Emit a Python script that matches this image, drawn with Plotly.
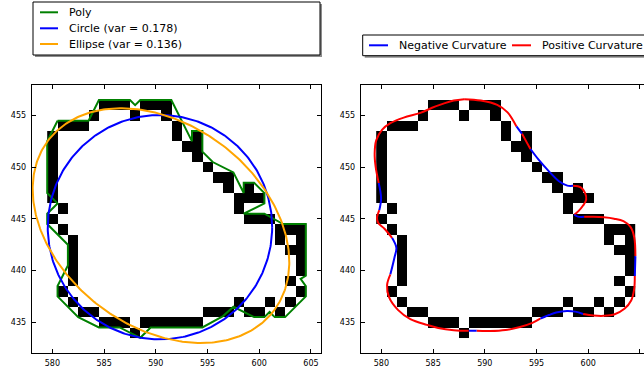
import numpy as np
import plotly.graph_objects as go

# ---------------- data ----------------
# black pixels of the binary image: row y -> list of x
pixel_rows_y = [456, 455, 454, 453, 452, 451, 450, 449, 448, 447, 446, 445,
                444, 443, 442, 441, 440, 439, 438, 437, 436, 435, 434]
pixel_rows_x = [
    [585, 586, 587, 589, 590, 591],
    [584, 588, 591],
    [581, 582, 583, 592],
    [580, 592, 594],
    [580, 593, 594],
    [580, 594],
    [580, 595],
    [580, 596, 597],
    [580, 597, 599],
    [580, 598, 599, 600],
    [581, 598],
    [580, 599, 600, 601],
    [581, 602, 603, 604],
    [582, 602, 604],
    [582, 603, 604],
    [582, 604],
    [582, 604],
    [582, 603],
    [581, 604],
    [582, 598, 601, 603],
    [583, 584, 595, 596, 597, 599, 600, 602],
    [585, 586, 587, 589, 590, 591, 592, 593, 594],
    [588],
]

# approximating polygon (closed)
poly_x = [580.5, 583.5, 584.5, 587.5, 588.0, 588.5, 591.5, 593.5, 593.5, 594.5,
          594.5, 595.5, 597.5, 598.5, 598.5, 599.5, 600.5, 600.5, 598.5, 600.5,
          602.3, 604.5, 604.5, 604.0, 604.5, 604.5, 602.5, 601.5, 601.0, 600.5,
          599.5, 597.5, 596.5, 594.5, 589.5, 588.5, 586.5, 584.5, 582.5, 580.5,
          580.5, 581.5, 581.5, 579.5, 579.5, 580.5, 579.5, 579.5, 580.5]
poly_y = [454.5, 454.5, 456.5, 456.5, 456.0, 456.5, 456.5, 452.5, 453.5, 453.5,
          451.5, 450.5, 449.5, 447.5, 448.5, 448.5, 447.5, 446.5, 445.5, 445.5,
          444.5, 444.5, 439.5, 439.2, 438.5, 437.5, 435.5, 435.5, 436.0, 435.5,
          435.5, 436.5, 435.6, 434.5, 434.5, 433.5, 434.5, 434.5, 435.5, 437.5,
          438.5, 440.5, 442.5, 444.5, 445.5, 446.5, 447.5, 452.5, 454.5]

# fitted circle and ellipse parameters
circle_center = (590.4, 444.2)
circle_radius = 10.85
circle_var = 0.178
ellipse_center = (590.5, 444.35)
ellipse_axes = (13.67, 9.79)      # semi-major, semi-minor
ellipse_angle_deg = -37.0
ellipse_var = 0.136

# smooth contour with curvature sign of the segment starting at each point
curve_x = [588.0, 589.6, 591.2, 592.2, 593.06, 593.6, 594.0, 594.41, 595.2, 596.2,
           597.17, 597.98, 598.53, 599.27, 599.7, 599.8, 599.5, 599.05, 598.65, 599.0,
           599.6, 600.5, 601.5, 602.5, 603.4, 604.1, 604.45, 604.56, 604.5, 604.44,
           604.15, 603.5, 602.5, 601.5, 600.5, 599.5, 598.74, 597.94, 596.9, 596.2,
           595.36, 594.6, 593.4, 592.0, 590.5, 589.2, 588.44, 587.0, 585.5, 584.4,
           582.8, 581.6, 580.75, 580.55, 580.87, 581.26, 581.45, 581.03, 580.3, 579.7,
           579.58, 579.8, 579.97, 579.74, 579.45, 579.35, 579.5, 580.06, 580.87, 582.16,
           583.77, 584.9, 586.0, 587.0]
curve_y = [456.58, 456.45, 456.03, 455.3, 453.94, 453.23, 452.5, 451.76, 450.73, 449.6,
           448.64, 448.22, 448.2, 448.05, 447.5, 446.87, 446.29, 445.75, 445.4, 445.22,
           445.2, 445.2, 445.15, 445.02, 444.78, 444.2, 443.2, 441.4, 439.47, 438.2,
           437.1, 436.3, 435.75, 435.62, 435.65, 435.8, 436.03, 436.1, 435.95, 435.7,
           435.35, 434.95, 434.55, 434.25, 434.15, 434.17, 434.18, 434.24, 434.45, 434.75,
           435.3, 436.2, 437.4, 438.6, 439.64, 441.25, 442.2, 443.17, 444.05, 444.6,
           445.1, 445.85, 447.0, 448.48, 450.0, 451.3, 452.6, 453.62, 454.26, 454.8,
           455.25, 455.75, 456.15, 456.45]
curve_sign = [1, 1, 1, 1, -1, 1, 1, -1, -1, -1,
              -1, -1, 1, 1, 1, 1, 1, 1, -1, -1,
              1, 1, 1, 1, 1, 1, 1, -1, 1, 1,
              1, 1, 1, 1, 1, -1, -1, -1, -1, -1,
              1, 1, 1, 1, 1, -1, 1, 1, 1, 1,
              1, 1, 1, 1, -1, -1, -1, 1, 1, 1,
              1, -1, -1, 1, 1, 1, 1, 1, 1, 1,
              1, 1, 1, 1]

x_ticks = [580, 585, 590, 595, 600, 605]
y_ticks = [435, 440, 445, 450, 455]

# ---------------- figure ----------------
W, H = 644, 370
FONT = "DejaVu Sans"

def px(p):
    return p / W

def py(p):
    return 1 - p / H

grid_x = list(range(580, 605))
grid_y = list(range(434, 457))
z = [[0] * len(grid_x) for _ in grid_y]
for yy, xs in zip(pixel_rows_y, pixel_rows_x):
    for xx in xs:
        z[grid_y.index(yy)][grid_x.index(xx)] = 1

fig = go.Figure()
for xa, ya in (("x", "y"), ("x2", "y2")):
    fig.add_trace(go.Heatmap(x=grid_x, y=grid_y, z=z, zmin=0, zmax=1,
                             colorscale=[[0, "white"], [1, "black"]],
                             showscale=False, hoverinfo="skip", xaxis=xa, yaxis=ya))

fig.add_trace(go.Scatter(x=poly_x, y=poly_y, mode="lines",
                         line=dict(color="green", width=2), showlegend=False,
                         xaxis="x", yaxis="y"))

t = np.linspace(0, 2 * np.pi, 361)
cx, cy = circle_center
fig.add_trace(go.Scatter(x=cx + circle_radius * np.cos(t), y=cy + circle_radius * np.sin(t),
                         mode="lines", line=dict(color="blue", width=2), showlegend=False,
                         xaxis="x", yaxis="y"))
ex, ey = ellipse_center
a, b = ellipse_axes
th = np.deg2rad(ellipse_angle_deg)
fig.add_trace(go.Scatter(x=ex + a * np.cos(t) * np.cos(th) - b * np.sin(t) * np.sin(th),
                         y=ey + a * np.cos(t) * np.sin(th) + b * np.sin(t) * np.cos(th),
                         mode="lines", line=dict(color="orange", width=2), showlegend=False,
                         xaxis="x", yaxis="y"))

# curvature-coloured contour, split into runs of equal sign
n = len(curve_x)
runs = []
start = 0
for i in range(1, n + 1):
    if i == n or curve_sign[i] != curve_sign[start]:
        idx = list(range(start, i + 1))
        runs.append((curve_sign[start], [j % n for j in idx]))
        start = i
for sgn, idx in runs:
    fig.add_trace(go.Scatter(x=[curve_x[j] for j in idx], y=[curve_y[j] for j in idx],
                             mode="lines", line=dict(color="red" if sgn > 0 else "blue",
                                                     width=2, shape="spline", smoothing=1),
                             showlegend=False, hoverinfo="skip", xaxis="x2", yaxis="y2"))

axis_common = dict(showgrid=False, zeroline=False, showline=True, linecolor="black",
                   linewidth=1, ticks="inside", ticklen=4, tickcolor="black",
                   tickfont=dict(family=FONT, size=8, color="black"))
scale = (321.3 - 31.7) / 28.0
fig.update_layout(
    width=W, height=H, margin=dict(l=0, r=0, t=0, b=0),
    paper_bgcolor="white", plot_bgcolor="white", showlegend=False,
    xaxis=dict(domain=[px(31.7), px(321.3)], range=[578, 606], tickvals=x_ticks,
               mirror="ticks", anchor="y", ticklabelstandoff=2, **axis_common),
    yaxis=dict(domain=[py(353.3), py(84.5)], range=[432, 458], tickvals=y_ticks,
               mirror="ticks", anchor="x", ticklabelstandoff=3, **axis_common),
    xaxis2=dict(domain=[px(360.7), 1.0], range=[578, 578 + (W - 360.7) / scale],
                tickvals=x_ticks, mirror="ticks", anchor="y2", ticklabelstandoff=2,
                **axis_common),
    yaxis2=dict(domain=[py(353.3), py(84.5)], range=[432, 458], tickvals=y_ticks,
                mirror=False, anchor="x2", ticklabelstandoff=3, **axis_common),
)

# ---------------- legends (drawn in paper space) ----------------
shapes = []
annotations = []

def legend_box(x0, y0, x1, y1):
    shapes.append(dict(type="rect", xref="paper", yref="paper",
                       x0=px(x0 + 2), x1=px(x1 + 2), y0=py(y1 + 2), y1=py(y0 + 2),
                       fillcolor="rgba(0,0,0,0.45)", line=dict(width=0)))
    shapes.append(dict(type="rect", xref="paper", yref="paper",
                       x0=px(x0), x1=px(x1), y0=py(y1), y1=py(y0),
                       fillcolor="white", line=dict(color="black", width=1)))

def legend_item(lx0, lx1, tx, yc, color, text):
    shapes.append(dict(type="line", xref="paper", yref="paper",
                       x0=px(lx0), x1=px(lx1), y0=py(yc), y1=py(yc),
                       line=dict(color=color, width=2)))
    annotations.append(dict(xref="paper", yref="paper", x=px(tx), y=py(yc),
                            xanchor="left", yanchor="middle", showarrow=False,
                            text=text, font=dict(family=FONT, size=11, color="black")))

legend_box(33, 2, 320, 55)
legend_item(40, 58, 67, 12.3, "green", "Poly")
legend_item(40, 58, 67, 28.3, "blue", f"Circle (var = {circle_var:.3f})")
legend_item(40, 58, 67, 44.0, "orange", f"Ellipse (var = {ellipse_var:.3f})")

legend_box(362.7, 35, 700, 55.7)
legend_item(369, 388, 397, 45.3, "blue", "Negative Curvature")
legend_item(512, 531, 540, 45.3, "red", "Positive Curvature")

fig.update_layout(shapes=shapes, annotations=annotations)
fig.write_html("out.html",
               config={"displayModeBar": False},
               post_script="document.body.style.margin='0px';"
                           "document.body.style.overflow='hidden';")
